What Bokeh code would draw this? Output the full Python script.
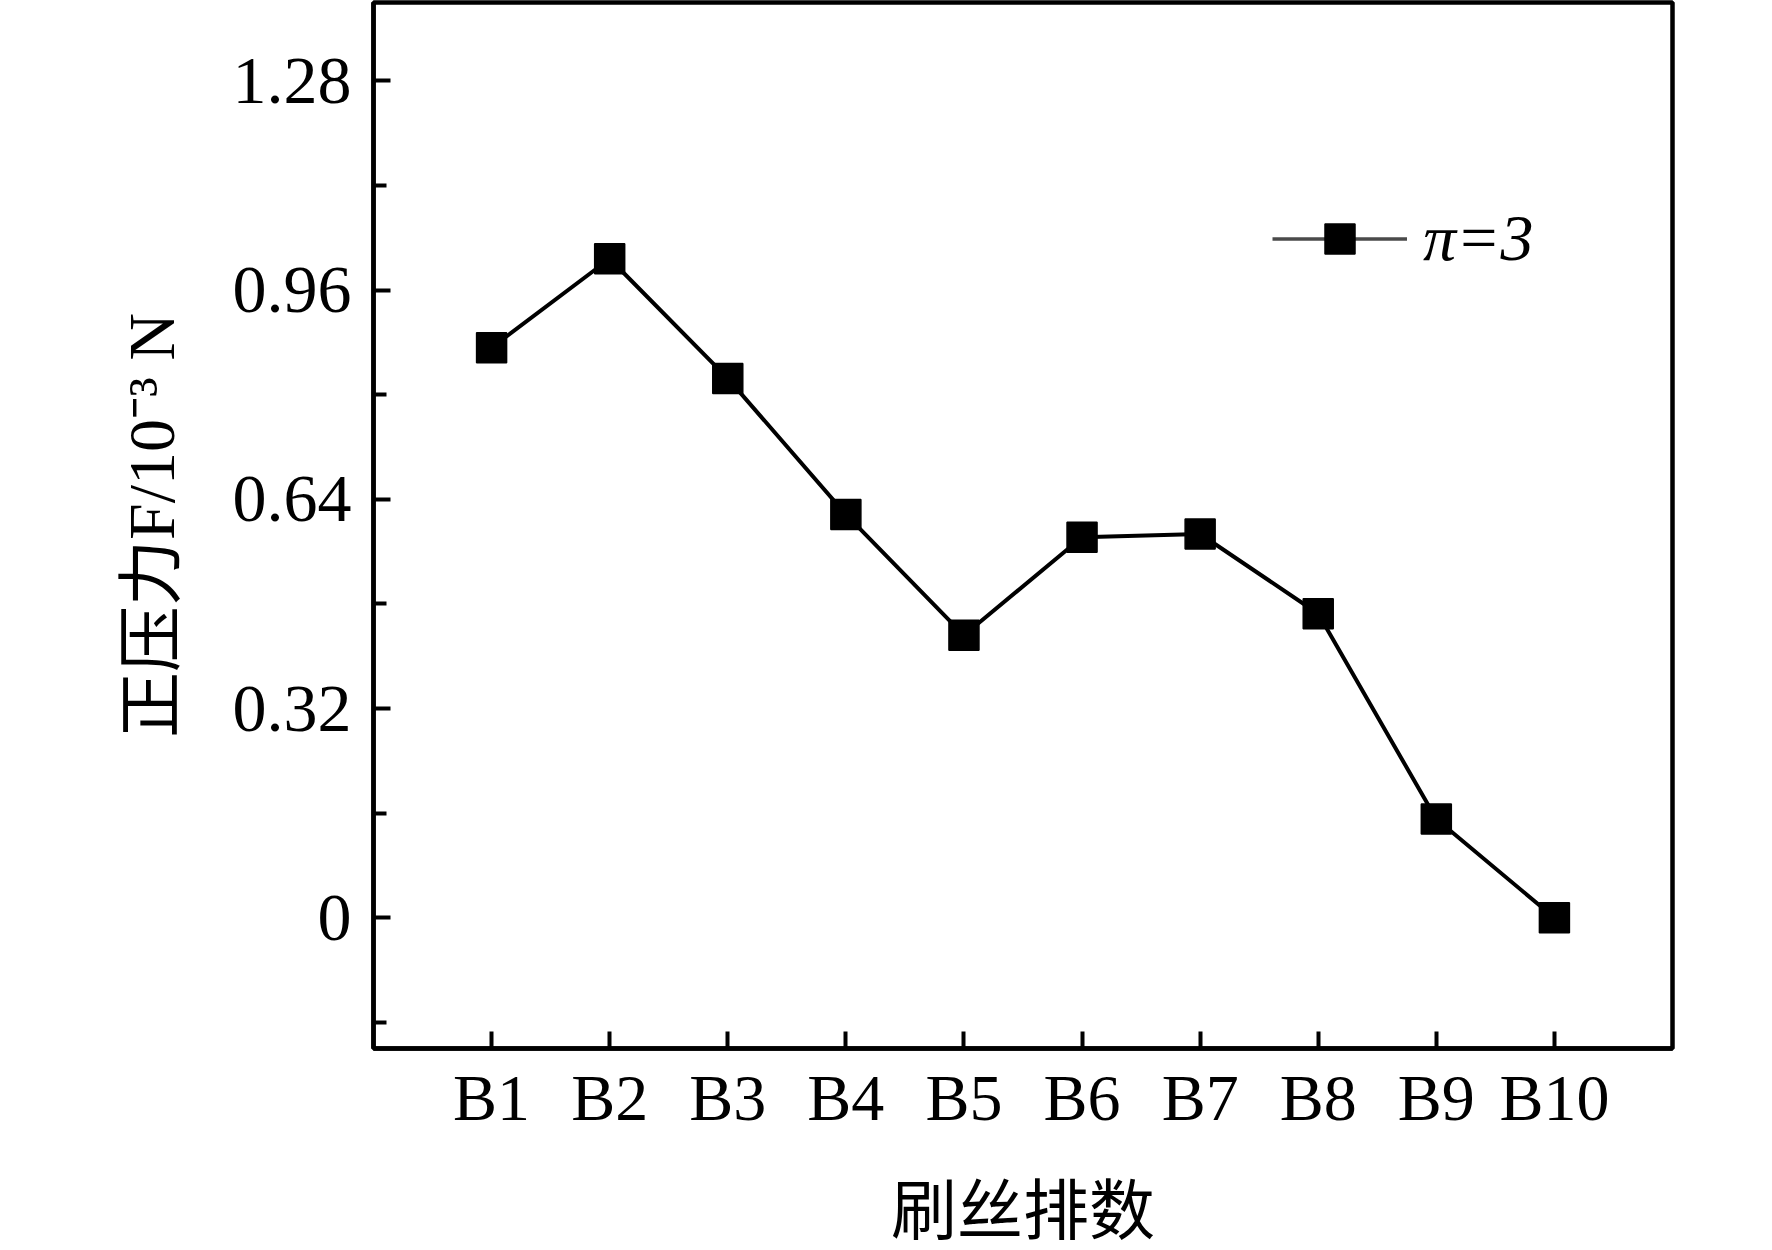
from bokeh.plotting import figure
from bokeh.models import (Range1d, FixedTicker, Legend, LegendItem,
                          ColumnDataSource)
from bokeh.embed import file_html
from bokeh.resources import INLINE

# ---- data -------------------------------------------------------------
categories = ["B1", "B2", "B3", "B4", "B5", "B6", "B7", "B8", "B9", "B10"]
force = [0.872, 1.008, 0.825, 0.617, 0.432, 0.582, 0.587, 0.465, 0.151, 0.0]
series_name = "π=3"
y_ticks = [0, 0.32, 0.64, 0.96, 1.28]
y_tick_labels = ["0", "0.32", "0.64", "0.96", "1.28"]
y_minor_ticks = [-0.16, 0.16, 0.48, 0.80, 1.12]
x_label = "刷丝排数"
y_label = "正压力F/10⁻³ N"

xpos = list(range(1, len(categories) + 1))
src = ColumnDataSource(dict(x=xpos, y=force, cat=categories))

SERIF = "Liberation Serif"
MIXED = "Liberation Serif, Noto Sans CJK SC"

p = figure(width=1772, height=1250, output_backend="svg", toolbar_location=None,
           title=None,
           x_range=Range1d(0, 11), y_range=Range1d(-0.2, 1.4),
           min_border_left=373, min_border_right=100,
           min_border_top=2, min_border_bottom=199)
p.background_fill_color = "white"
p.border_fill_color = "white"
p.xgrid.visible = False
p.ygrid.visible = False
p.outline_line_color = "black"
p.outline_line_width = 4.5

# axes
for ax in (p.xaxis[0], p.yaxis[0]):
    ax.axis_line_width = 4.5
    ax.axis_line_color = "black"
    ax.major_tick_line_width = 4
    ax.minor_tick_line_width = 4
    ax.major_tick_line_color = "black"
    ax.minor_tick_line_color = "black"
    ax.major_tick_out = 0
    ax.major_tick_in = 17
    ax.minor_tick_out = 0
    ax.minor_tick_in = 13
    ax.major_label_text_font = SERIF
    ax.major_label_text_color = "black"
    ax.axis_label_text_font = MIXED
    ax.axis_label_text_font_size = "66px"
    ax.axis_label_text_font_style = "normal"
    ax.axis_label_text_color = "black"

p.xaxis.ticker = FixedTicker(ticks=xpos)
p.xaxis.major_label_overrides = {x: c for x, c in zip(xpos, categories)}
p.xaxis.minor_tick_line_color = None
p.xaxis.major_label_text_font_size = "66px"
p.xaxis.major_label_standoff = 12
p.xaxis.axis_label = x_label
p.xaxis.axis_label_standoff = 38

p.yaxis.ticker = FixedTicker(ticks=y_ticks, minor_ticks=y_minor_ticks)
p.yaxis.major_label_overrides = {t: s for t, s in zip(y_ticks, y_tick_labels)}
p.yaxis.major_label_text_font_size = "68px"
p.yaxis.major_label_standoff = 22
p.yaxis.axis_label = y_label
p.yaxis.axis_label_standoff = 42

# data
line_r = p.line("x", "y", source=src, line_color="black", line_width=4)
pts_r = p.scatter("x", "y", source=src, marker="square", size=30,
                  fill_color="black", line_color="black", line_width=1.5)

# legend: gray line sample (proxy renderer drawing nothing) + square marker
proxy = p.line(x=[float("nan")], y=[float("nan")], line_color="#4a4a4a", line_width=3.5)
legend = Legend(items=[LegendItem(label=series_name, renderers=[proxy, pts_r])],
                location=(899, 772), padding=0, margin=0, spacing=0,
                glyph_width=135, glyph_height=75, label_standoff=16,
                label_text_font=SERIF, label_text_font_size="66px",
                label_text_font_style="italic", label_text_color="black",
                border_line_color=None, background_fill_alpha=0)
p.add_layout(legend)

open("out.html", "w").write(file_html(p, INLINE))
